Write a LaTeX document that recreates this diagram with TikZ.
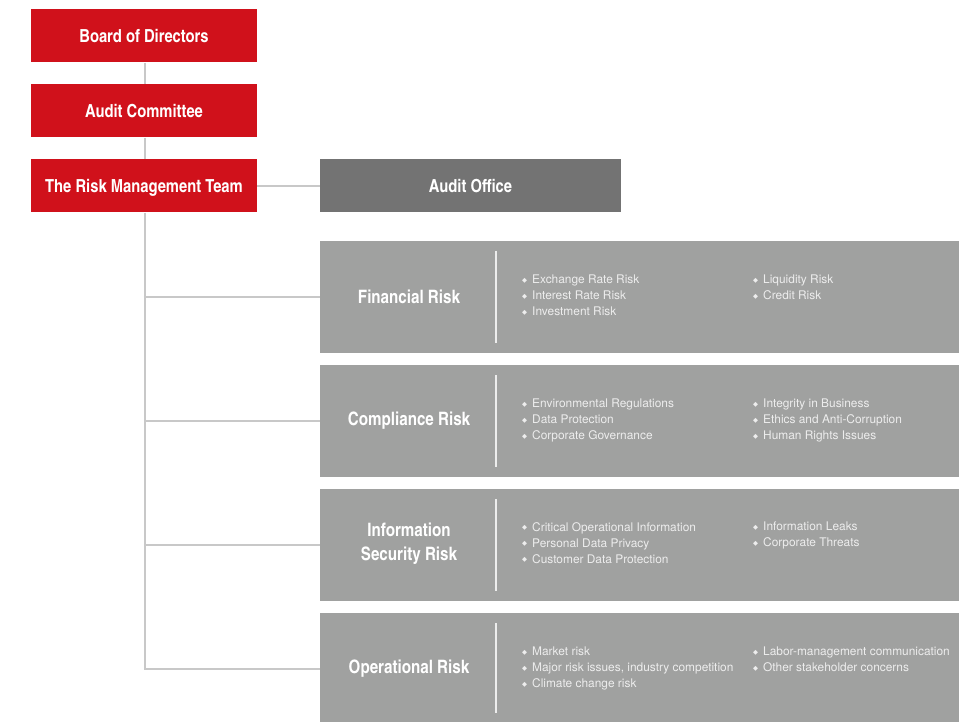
\documentclass[tikz,border=0pt]{standalone}
\usepackage{fontspec}
\setmainfont{TeX Gyre Heros}
\newfontfamily\headfont{TeX Gyre Heros Cn}
\newfontfamily\dejavu{DejaVu Sans}
\definecolor{boardred}{HTML}{D0111B}
\definecolor{officegray}{HTML}{737373}
\definecolor{riskgray}{HTML}{A0A1A0}
\definecolor{linkgray}{HTML}{C8C8C8}
\definecolor{itemtext}{HTML}{EDEDED}
\newcommand{\itm}{\makebox[10pt][l]{\dejavu\fontsize{6.5}{6.5}\selectfont\raisebox{1.6pt}{◆}}}
\tikzset{
  redbox/.style={fill=boardred, minimum width=226pt, minimum height=53pt, inner sep=0pt,
    text height=15pt, text depth=1pt,
    text=white, font=\headfont\bfseries\fontsize{18}{21}\selectfont},
  officebox/.style={fill=officegray, minimum width=301pt, minimum height=53pt, inner sep=0pt,
    text height=15pt, text depth=1pt,
    text=white, font=\headfont\bfseries\fontsize{18}{21}\selectfont},
  riskbox/.style={fill=riskgray, minimum width=639pt, minimum height=112pt, inner sep=0pt, anchor=north west},
  riskhead/.style={text=white, align=center, font=\headfont\bfseries\fontsize{18.5}{24}\selectfont},
  itemlist/.style={text=itemtext, align=left, anchor=north west, inner sep=0pt,
    font=\fontsize{11.9}{16}\selectfont},
  link/.style={draw=linkgray, line width=2.5pt},
  divider/.style={draw=itemtext, line width=1.3pt}
}
\begin{document}
\begin{tikzpicture}[x=1pt,y=-1pt]
\useasboundingbox (0,0) rectangle (959,722);

% management chain
\node[redbox] (board) at (144,36) {Board of Directors};
\node[redbox] (audit) at (144,111) {Audit Committee};
\node[redbox] (team)  at (144,186) {The Risk Management Team};
\node[officebox] (office) at (470.5,186) {Audit Office};

% risk categories
\node[riskbox] (fin)  at (320,241) {};
\node[riskbox] (comp) at (320,365) {};
\node[riskbox] (info) at (320,489) {};
\node[riskbox] (oper) at (320,613) {};

% connectors
\coordinate (spine) at (145,0);
\draw[link] (board.south -| spine) -- (audit.north -| spine);
\draw[link] (audit.south -| spine) -- (team.north -| spine);
\draw[link] (team.east) -- (office.west);
\coordinate (fjoin) at (145,297);
\coordinate (cjoin) at (145,421);
\coordinate (ijoin) at (145,545);
\coordinate (ojoin) at (145,669);
\draw[link] (team.south -| spine) -- ([yshift=1.25pt]ojoin);
\draw[link] ([xshift=-1.25pt]fjoin) -- (fjoin -| fin.west);
\draw[link] ([xshift=-1.25pt]cjoin) -- (cjoin -| comp.west);
\draw[link] ([xshift=-1.25pt]ijoin) -- (ijoin -| info.west);
\draw[link] ([xshift=-1.25pt]ojoin) -- (ojoin -| oper.west);

% headings
\node[riskhead] (finh)  at (409,297) {Financial Risk};
\node[riskhead] (comph) at (409,421) {Compliance Risk};
\node[riskhead] (infoh) at (409,544) {Information\\Security Risk};
\node[riskhead] (operh) at (409,669) {Operational Risk};

% dividers
\draw[divider] (496,251) -- (496,343);
\draw[divider] (496,375) -- (496,467);
\draw[divider] (496,499) -- (496,591);
\draw[divider] (496,623) -- (496,713);

% item lists
\node[itemlist] (fin1) at (522,275) {\itm Exchange Rate Risk\\\itm Interest Rate Risk\\\itm Investment Risk};
\node[itemlist] (fin2) at (753,275) {\itm Liquidity Risk\\\itm Credit Risk};
\node[itemlist] (comp1) at (522,399) {\itm Environmental Regulations\\\itm Data Protection\\\itm Corporate Governance};
\node[itemlist] (comp2) at (753,399) {\itm Integrity in Business\\\itm Ethics and Anti-Corruption\\\itm Human Rights Issues};
\node[itemlist] (info1) at (522,522) {\itm Critical Operational Information\\\itm Personal Data Privacy\\\itm Customer Data Protection};
\node[itemlist] (info2) at (753,522) {\itm Information Leaks\\\itm Corporate Threats};
\node[itemlist] (oper1) at (522,647) {\itm Market risk\\\itm Major risk issues, industry competition\\\itm Climate change risk};
\node[itemlist] (oper2) at (753,647) {\itm Labor-management communication\\\itm Other stakeholder concerns};
\end{tikzpicture}
\end{document}
